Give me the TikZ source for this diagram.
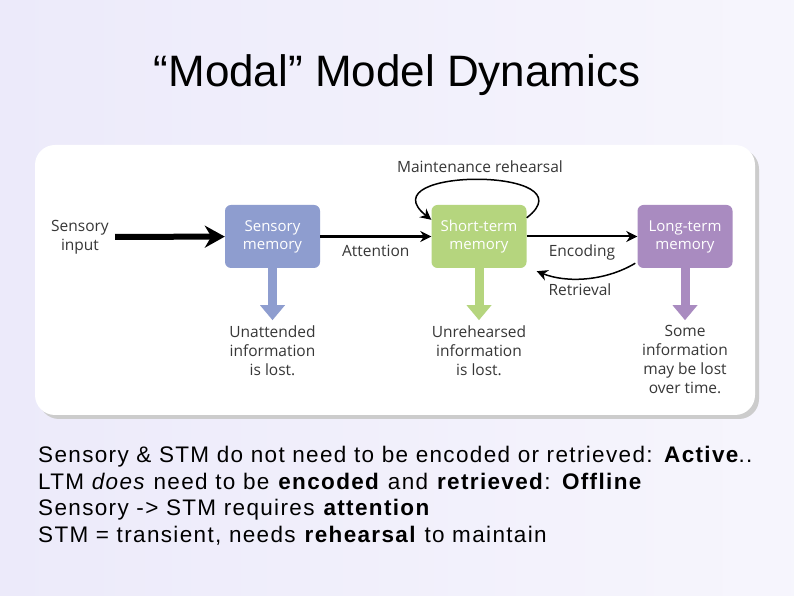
\documentclass[tikz,border=0pt]{standalone}
\usepackage{fontspec}
\setmainfont{Liberation Sans}
\newfontfamily\figfont{Open Sans}
\newfontfamily\factfont[LetterSpace=6]{Liberation Sans}
\usetikzlibrary{positioning,arrows.meta,calc}
\definecolor{slidebg}{RGB}{236,234,250}
\definecolor{sensc}{RGB}{142,157,207}
\definecolor{stmc}{RGB}{181,213,126}
\definecolor{ltmc}{RGB}{169,139,192}
\definecolor{inkc}{RGB}{55,55,55}
\tikzset{
  store/.style = {rounded corners=6pt, minimum width=95pt, minimum height=63pt,
                  align=center, inner sep=2pt, text=white,
                  font=\figfont\fontsize{15}{18}\selectfont},
  note/.style  = {align=center, text=inkc, inner sep=2pt,
                  font=\figfont\fontsize{15.5}{19}\selectfont},
  flow/.style  = {-{Stealth[length=11pt,width=11pt]}, line width=2pt, draw=black},
  drop/.style  = {-{Triangle[length=15pt,width=24pt]}, line width=9pt, shorten >=3pt},
}
\begin{document}
\begin{tikzpicture}[x=1pt, y=1pt]
\useasboundingbox (0,0) rectangle (794,596);
\shade[left color=slidebg, right color=slidebg!45!white] (0,0) rectangle (794,596);

% panel
\fill[gray!40, rounded corners=20pt] (39,177) rectangle (759,447);
\fill[white, rounded corners=20pt] (35,181) rectangle (755,451);

\node[font=\fontsize{44}{48}\selectfont] (title) at (397,521) {``Modal'' Model Dynamics};

% stores
\node[store, fill=sensc] (sens) at (272.5,359.5) {Sensory\\memory};
\node[store, fill=stmc]  (stm)  at (479,359.5)   {Short-term\\memory};
\node[store, fill=ltmc]  (ltm)  at (685,359.5)   {Long-term\\memory};

\node[note] (input) at (80,359) {Sensory\\input};
\draw[-{Stealth[length=20pt,width=22pt]}, line width=6pt, shorten <=4pt] (input) -- (sens);
\draw[flow, line width=2.6pt] (sens) -- node[note, below=5pt] (attn) {Attention} (stm);
\draw[flow] (stm) -- node[note, below=5pt] (enc) {Encoding} (ltm);

% retrieval and rehearsal
\draw[flow, line width=1.5pt] ($(ltm.south west)+(-2,5)$)
  .. controls +(-30,-18) and +(30,-12) .. ($(stm.south east)+(10,-3)$);
\node[note] (retr) at (580,306) {Retrieval};
\draw[flow, line width=1.5pt] ($(stm.north east)+(0,-13)$)
  .. controls +(66,51) and +(-66,53) .. ($(stm.north west)+(0,-15)$);
\node[note] (maint) at (480,429) {Maintenance rehearsal};

% losses
\node[note, below=55pt of sens] (lostA) {Unattended\\information\\is lost.};
\node[note, below=55pt of stm]  (lostB) {Unrehearsed\\information\\is lost.};
\node[note, below=55pt of ltm]  (lostC) {Some\\information\\may be lost\\over time.};
\draw[drop, draw=sensc] (sens) -- (lostA);
\draw[drop, draw=stmc]  (stm)  -- (lostB);
\draw[drop, draw=ltmc]  (ltm)  -- (lostC);

\node[anchor=north west, align=left, inner sep=0pt,
      font=\factfont\fontsize{22.5}{26.7}\selectfont] (facts) at (38,150)
  {Sensory \& STM do not need to be encoded or retrieved: \textbf{Active}..\\
   LTM \emph{does} need to be \textbf{encoded} and \textbf{retrieved}: \textbf{Offline}\\
   Sensory -> STM requires \textbf{attention}\\
   STM = transient, needs \textbf{rehearsal} to maintain};
\end{tikzpicture}
\end{document}
